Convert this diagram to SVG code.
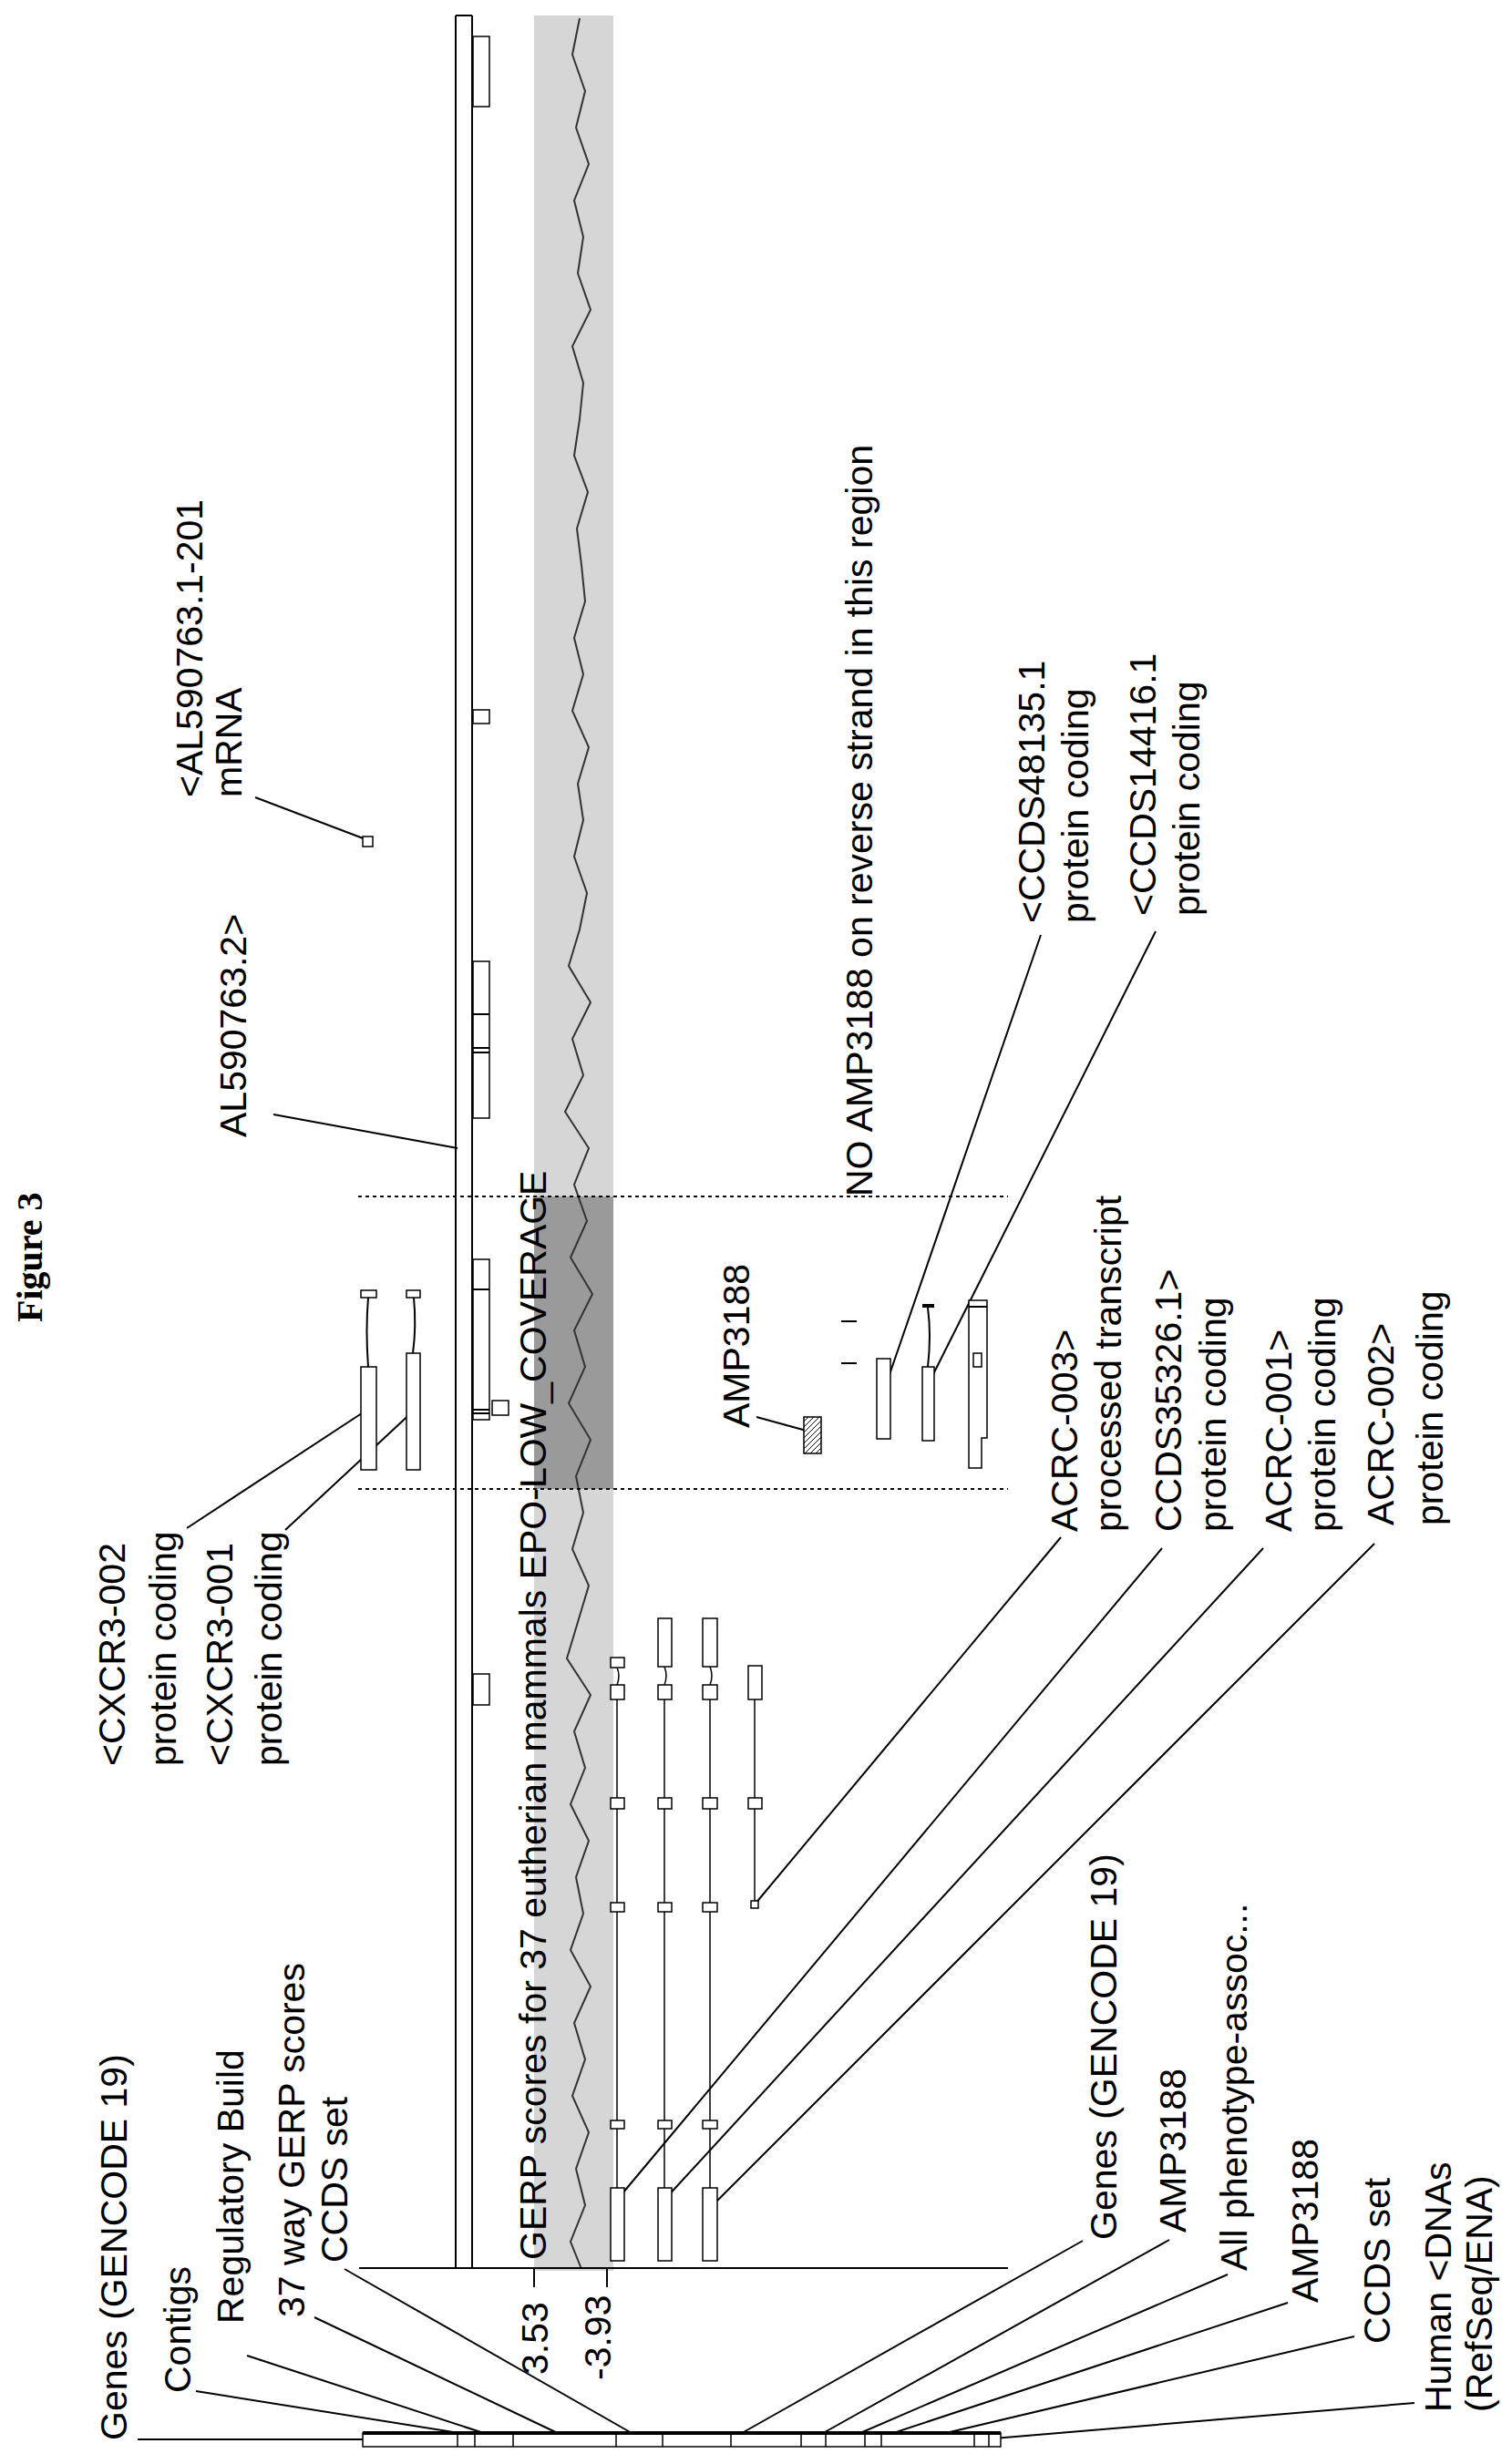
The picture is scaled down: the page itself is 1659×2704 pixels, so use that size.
<svg xmlns="http://www.w3.org/2000/svg" width="1659" height="2704" viewBox="0 0 1659 2704">
<style>
.t{font-family:"Liberation Sans",Arial,sans-serif;font-size:41px;fill:#000}
.l{stroke:#000;stroke-width:2;fill:none}
.b{fill:#fff;stroke:#000;stroke-width:1.5}
.d{stroke:#000;stroke-width:2;stroke-dasharray:4 4}
</style>
<defs>
<pattern id="h" width="6" height="6" patternUnits="userSpaceOnUse"><rect width="6" height="6" fill="#fff"/><path d="M0,6 L6,0" stroke="#000" stroke-width="1"/></pattern>
</defs>
<rect width="1659" height="2704" fill="#fff"/>
<text style="font-family:'Liberation Serif',serif;font-weight:bold;font-size:40px" transform="translate(46,1451) rotate(-90)">Figure 3</text>

<g id="gerp">
<rect x="586" y="17" width="87" height="2475" fill="#d6d6d6"/>
<rect x="586" y="1313" width="87" height="321" fill="#9a9a9a"/>
<polyline fill="none" stroke="#333" stroke-width="2" points="636,20 628,60 642,100 632,140 646,180 630,220 640,260 634,300 648,340 628,380 640,420 636,460 630,500 645,540 633,580 638,620 642,660 630,700 640,740 628,780 646,820 634,860 640,900 630,940 644,980 636,1020 624,1060 648,1100 628,1140 640,1180 620,1220 646,1260 630,1300 644,1340 626,1380 650,1420 630,1460 642,1500 624,1540 648,1580 632,1620 640,1660 628,1700 646,1740 634,1780 622,1820 648,1860 630,1900 642,1940 626,1980 646,2020 632,2060 640,2100 626,2140 648,2180 630,2220 642,2260 628,2300 646,2340 632,2380 642,2420 626,2460 638,2490"/>
<line class="l" x1="586" y1="2490" x2="586" y2="2510"/>
<line class="l" x1="666" y1="2490" x2="666" y2="2510"/>
</g>

<g id="contig">
<line class="l" x1="500" y1="17" x2="500" y2="2490"/>
<line class="l" x1="518" y1="17" x2="518" y2="2490"/>
<line class="l" x1="500" y1="17" x2="518" y2="17"/>
<rect class="b" x="519" y="40" width="18" height="77"/>
<rect class="b" x="519" y="779" width="18" height="15"/>
<rect class="b" x="519" y="1055" width="18" height="172"/>
<line class="l" x1="519" y1="1113" x2="537" y2="1113"/>
<line class="l" x1="519" y1="1150" x2="537" y2="1150"/>
<line class="l" x1="519" y1="1155" x2="537" y2="1155"/>
<rect class="b" x="519" y="1382" width="18" height="176"/>
<line class="l" x1="519" y1="1415" x2="537" y2="1415"/>
<line class="l" x1="519" y1="1547" x2="537" y2="1547"/>
<line class="l" x1="519" y1="1551" x2="537" y2="1551"/>
<rect class="b" x="540" y="1537" width="18" height="16"/>
<rect class="b" x="519" y="1837" width="18" height="34"/>
</g>

<g id="connectors">
<line class="d" x1="393" y1="1313" x2="1106" y2="1313"/>
<line class="d" x1="393" y1="1634" x2="1106" y2="1634"/>
<line class="l" x1="394" y1="2489" x2="1106" y2="2489" stroke="#666"/>
<line class="l" x1="300" y1="1223" x2="502" y2="1260"/>
<line class="l" x1="280" y1="875" x2="401" y2="921"/>
<line class="l" x1="1142" y1="1026" x2="972" y2="1520"/>
<line class="l" x1="1268" y1="1022" x2="1018" y2="1520"/>
<line class="l" x1="830" y1="1555" x2="892" y2="1572"/>
<line class="l" x1="205" y1="1677" x2="406" y2="1545"/>
<line class="l" x1="313" y1="1679" x2="455" y2="1547"/>
<line class="l" x1="1164" y1="1687" x2="828" y2="2090"/>
<line class="l" x1="1275" y1="1699" x2="678" y2="2413"/>
<line class="l" x1="1386" y1="1699" x2="730" y2="2413"/>
<line class="l" x1="1508" y1="1694" x2="780" y2="2422"/>
<line class="l" x1="151" y1="2677" x2="448" y2="2677"/>
<line class="l" x1="215" y1="2624" x2="541" y2="2676"/>
<line class="l" x1="271" y1="2585" x2="549" y2="2676"/>
<line class="l" x1="345" y1="2543" x2="620" y2="2674"/>
<line class="l" x1="378" y1="2490" x2="700" y2="2674"/>
<line class="l" x1="1188" y1="2459" x2="807" y2="2674"/>
<line class="l" x1="1283" y1="2458" x2="896" y2="2674"/>
<line class="l" x1="1347" y1="2496" x2="930" y2="2676"/>
<line class="l" x1="1413" y1="2527" x2="962" y2="2676"/>
<line class="l" x1="1486" y1="2564" x2="1021" y2="2674"/>
<line class="l" x1="1552" y1="2637" x2="1090" y2="2676"/>
</g>

<g id="bottom-box">
<rect class="b" x="398" y="2670" width="700" height="15" stroke-width="2"/>
<line x1="398" y1="2670" x2="1098" y2="2670" stroke="#000" stroke-width="4"/>
<g stroke="#000" stroke-width="1.5">
<line x1="502" y1="2670" x2="502" y2="2685"/><line x1="521" y1="2670" x2="521" y2="2685"/>
<line x1="563" y1="2670" x2="563" y2="2685"/><line x1="676" y1="2670" x2="676" y2="2685"/>
<line x1="727" y1="2670" x2="727" y2="2685"/><line x1="802" y1="2670" x2="802" y2="2685"/>
<line x1="879" y1="2670" x2="879" y2="2685"/><line x1="906" y1="2670" x2="906" y2="2685"/>
<line x1="949" y1="2670" x2="949" y2="2685"/><line x1="967" y1="2670" x2="967" y2="2685"/>
<line x1="1069" y1="2670" x2="1069" y2="2685"/><line x1="1085" y1="2670" x2="1085" y2="2685"/>
</g>
</g>

<g id="cxcr3">
<rect class="b" x="396" y="1416" width="17" height="8"/>
<path class="l" d="M404,1424 Q401,1460 404,1500" stroke-width="1.5"/>
<rect class="b" x="396" y="1500" width="17" height="113"/>
<rect class="b" x="446" y="1416" width="15" height="8"/>
<path class="l" d="M454,1424 Q457,1455 453,1485" stroke-width="1.5"/>
<rect class="b" x="446" y="1485" width="15" height="128"/>
</g>

<g id="amp3188">
<rect x="882" y="1555" width="19" height="40" fill="url(#h)" stroke="#000" stroke-width="1.5"/>
</g>

<g id="ccds-upper">
<line class="l" x1="923" y1="1450" x2="940" y2="1450"/>
<line class="l" x1="923" y1="1496" x2="940" y2="1496"/>
<rect class="b" x="962" y="1491" width="15" height="88"/>
<rect x="1012" y="1431" width="13" height="4" fill="#000"/>
<path class="l" d="M1018,1435 Q1022,1465 1018,1500" stroke-width="1.5"/>
<rect class="b" x="1012" y="1500" width="13" height="81"/>
<path class="b" d="M1063,1427 H1083 V1578 H1077 V1611 H1063 Z"/>
<line class="l" x1="1063" y1="1434" x2="1083" y2="1434"/>
<rect class="b" x="1068" y="1485" width="9" height="15"/>
</g>

<g id="acrc">
<g stroke="#000" stroke-width="1.5" fill="none">
<path d="M677,1830 q4,9 0,19"/><line x1="677" y1="1865" x2="677" y2="1973"/><line x1="677" y1="1985" x2="677" y2="2088"/><line x1="677" y1="2098" x2="677" y2="2327"/><line x1="677" y1="2336" x2="677" y2="2401"/>
<path d="M729,1829 q4,10 0,20"/><line x1="729" y1="1865" x2="729" y2="1973"/><line x1="729" y1="1985" x2="729" y2="2088"/><line x1="729" y1="2098" x2="729" y2="2327"/><line x1="729" y1="2336" x2="729" y2="2401"/>
<path d="M779,1829 q4,10 0,20"/><line x1="779" y1="1865" x2="779" y2="1973"/><line x1="779" y1="1985" x2="779" y2="2088"/><line x1="779" y1="2098" x2="779" y2="2327"/><line x1="779" y1="2336" x2="779" y2="2401"/>
<line x1="828" y1="1865" x2="828" y2="1973"/><line x1="828" y1="1985" x2="828" y2="2086"/>
</g>
<rect class="b" x="670" y="1819" width="15" height="11"/>
<rect class="b" x="670" y="1849" width="15" height="16"/>
<rect class="b" x="670" y="1973" width="15" height="12"/>
<rect class="b" x="670" y="2088" width="15" height="10"/>
<rect class="b" x="670" y="2327" width="15" height="9"/>
<rect class="b" x="670" y="2401" width="15" height="80"/>
<rect class="b" x="722" y="1776" width="15" height="53"/>
<rect class="b" x="722" y="1849" width="15" height="16"/>
<rect class="b" x="722" y="1973" width="15" height="12"/>
<rect class="b" x="722" y="2088" width="15" height="10"/>
<rect class="b" x="722" y="2327" width="15" height="9"/>
<rect class="b" x="722" y="2401" width="15" height="80"/>
<rect class="b" x="771" y="1776" width="16" height="53"/>
<rect class="b" x="771" y="1849" width="16" height="16"/>
<rect class="b" x="771" y="1973" width="16" height="12"/>
<rect class="b" x="771" y="2088" width="16" height="10"/>
<rect class="b" x="771" y="2327" width="16" height="9"/>
<rect class="b" x="771" y="2401" width="16" height="80"/>
<rect class="b" x="821" y="1828" width="15" height="37"/>
<rect class="b" x="821" y="1973" width="15" height="12"/>
<rect class="b" x="824" y="2086" width="8" height="8"/>
</g>

<g id="mrna"><rect class="b" x="398" y="918" width="11" height="11"/></g>

<g id="labels" class="t">
<text transform="translate(139,2678) rotate(-90)">Genes (GENCODE 19)</text>
<text transform="translate(209,2626) rotate(-90)">Contigs</text>
<text transform="translate(267,2550) rotate(-90)">Regulatory Build</text>
<text transform="translate(334,2543) rotate(-90)">37 way GERP scores</text>
<text transform="translate(381,2483) rotate(-90)">CCDS set</text>
<text transform="translate(601,2606) rotate(-90)">3.53</text>
<text transform="translate(670,2612) rotate(-90)">-3.93</text>
<text transform="translate(599,2480) rotate(-90)">GERP scores for 37 eutherian mammals EPO-LOW_COVERAGE</text>
<text transform="translate(1225,2458) rotate(-90)">Genes (GENCODE 19)</text>
<text transform="translate(1301,2450) rotate(-90)">AMP3188</text>
<text transform="translate(1368,2492) rotate(-90)">All phenotype-assoc...</text>
<text transform="translate(1446,2527) rotate(-90)">AMP3188</text>
<text transform="translate(1525,2572) rotate(-90)">CCDS set</text>
<text transform="translate(1592,2647) rotate(-90)">Human &lt;DNAs</text>
<text transform="translate(1637,2647) rotate(-90)">(RefSeq/ENA)</text>
<text transform="translate(137,1938) rotate(-90)">&lt;CXCR3-002</text>
<text transform="translate(193,1938) rotate(-90)">protein coding</text>
<text transform="translate(255,1938) rotate(-90)">&lt;CXCR3-001</text>
<text transform="translate(309,1938) rotate(-90)">protein coding</text>
<text transform="translate(822,1567) rotate(-90)">AMP3188</text>
<text transform="translate(1182,1681) rotate(-90)">ACRC-003&gt;</text>
<text transform="translate(1230,1681) rotate(-90)">processed transcript</text>
<text transform="translate(1296,1681) rotate(-90)">CCDS35326.1&gt;</text>
<text transform="translate(1345,1681) rotate(-90)">protein coding</text>
<text transform="translate(1417,1681) rotate(-90)">ACRC-001&gt;</text>
<text transform="translate(1465,1681) rotate(-90)">protein coding</text>
<text transform="translate(1529,1674) rotate(-90)">ACRC-002&gt;</text>
<text transform="translate(1583,1674) rotate(-90)">protein coding</text>
<text transform="translate(957,1313) rotate(-90)">NO AMP3188 on reverse strand in this region</text>
<text transform="translate(270,1248) rotate(-90)">AL590763.2&gt;</text>
<text transform="translate(222,875) rotate(-90)">&lt;AL590763.1-201</text>
<text transform="translate(265,875) rotate(-90)">mRNA</text>
<text transform="translate(1146,1013) rotate(-90)">&lt;CCDS48135.1</text>
<text transform="translate(1194,1013) rotate(-90)">protein coding</text>
<text transform="translate(1268,1005) rotate(-90)">&lt;CCDS14416.1</text>
<text transform="translate(1316,1005) rotate(-90)">protein coding</text>
</g>
</svg>
